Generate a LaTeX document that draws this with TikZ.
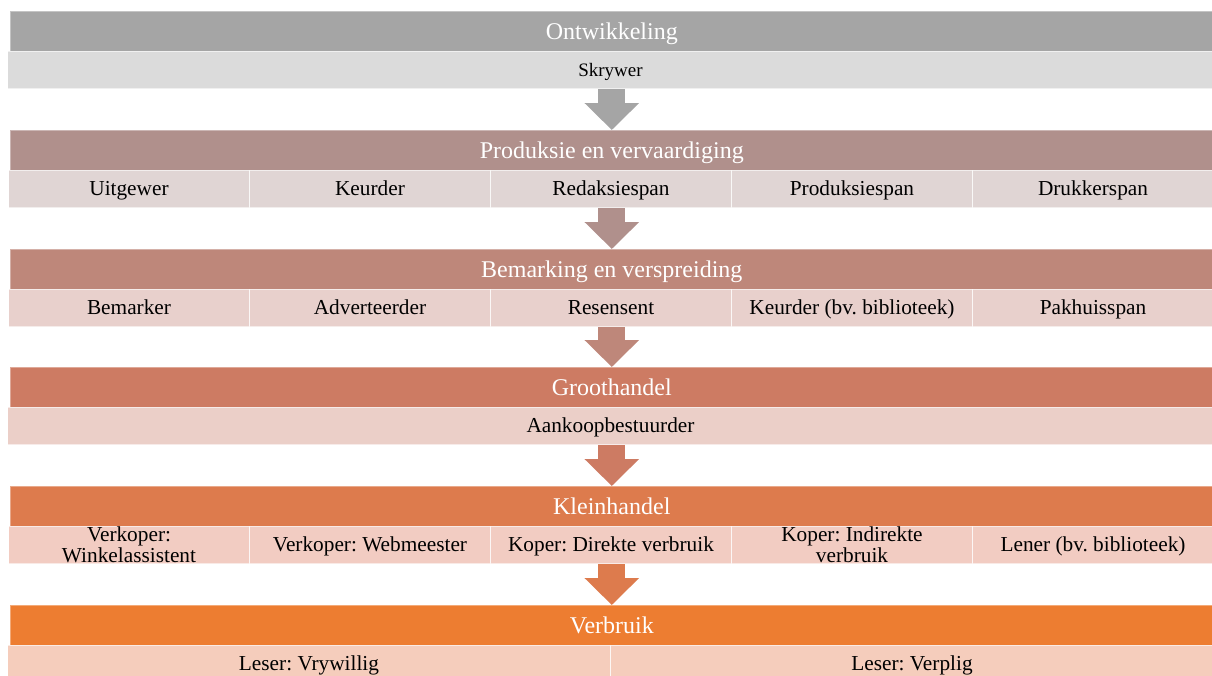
\documentclass[tikz,border=0pt]{standalone}
\usepackage{fontspec}
\setmainfont{Liberation Serif}
\frenchspacing
\usetikzlibrary{arrows.meta}
\definecolor{hA}{HTML}{A5A5A5}\definecolor{sA}{HTML}{DBDBDB}
\definecolor{hB}{HTML}{B0908C}\definecolor{sB}{HTML}{E0D5D4}
\definecolor{hC}{HTML}{BE877A}\definecolor{sC}{HTML}{E8D0CC}
\definecolor{hD}{HTML}{CD7B63}\definecolor{sD}{HTML}{EBCFC8}
\definecolor{hE}{HTML}{DD7B4D}\definecolor{sE}{HTML}{F2CCC2}
\definecolor{hF}{HTML}{ED7D31}\definecolor{sF}{HTML}{F5CDBC}
\tikzset{
  hdr/.style={anchor=north west, inner sep=0pt, minimum width=1203pt, minimum height=39.5pt,
    text=white, font=\fontsize{24}{24}\selectfont, text height=20.7pt, text depth=4.8pt,
    draw=white, draw opacity=0.35, line width=0.6pt},
  subcell/.style={anchor=north west, inner sep=0pt, minimum height=37.5pt,
    text=black, font=\fontsize{21.3}{21}\selectfont, text height=18.4pt, text depth=4.3pt,
    draw=white, draw opacity=0.6, line width=1pt},
  five/.style={subcell, minimum width=241pt},
  twoline/.style={align=center, text height=, text depth=},
  flow/.style={line width=27pt, -{Triangle[width=53pt,length=27pt]}}
}
\begin{document}
\begin{tikzpicture}[x=1pt,y=-1pt]
\useasboundingbox (0,0) rectangle (1212,675);
% Row 1
\node[hdr, fill=hA] (h1) at (10,11) {Ontwikkeling};
\node[subcell, fill=sA, minimum width=1206pt, font=\fontsize{19}{19}\selectfont, text height=16.6pt, text depth=4pt] (s1) at (7,50.5) {Skrywer};
% Row 2
\node[hdr, fill=hB] (h2) at (10,130) {Produksie en vervaardiging};
\node[five, fill=sB] (s2a) at (8,169.5) {Uitgewer};
\node[five, fill=sB] (s2b) at (249,169.5) {Keurder};
\node[five, fill=sB] (s2c) at (490,169.5) {Redaksiespan};
\node[five, fill=sB] (s2d) at (731,169.5) {Produksiespan};
\node[five, fill=sB] (s2e) at (972,169.5) {Drukkerspan};
% Row 3
\node[hdr, fill=hC] (h3) at (10,249) {Bemarking en verspreiding};
\node[five, fill=sC] (s3a) at (8,288.5) {Bemarker};
\node[five, fill=sC] (s3b) at (249,288.5) {Adverteerder};
\node[five, fill=sC] (s3c) at (490,288.5) {Resensent};
\node[five, fill=sC] (s3d) at (731,288.5) {Keurder (bv. biblioteek)};
\node[five, fill=sC] (s3e) at (972,288.5) {Pakhuisspan};
% Row 4
\node[hdr, fill=hD] (h4) at (10,367) {Groothandel};
\node[subcell, fill=sD, minimum width=1206pt] (s4) at (7,406.5) {Aankoopbestuurder};
% Row 5
\node[hdr, fill=hE] (h5) at (10,486) {Kleinhandel};
\node[five, twoline, fill=sE] (s5a) at (8,525.5) {Verkoper:\\Winkelassistent};
\node[five, fill=sE] (s5b) at (249,525.5) {Verkoper: Webmeester};
\node[five, fill=sE] (s5c) at (490,525.5) {Koper: Direkte verbruik};
\node[five, twoline, fill=sE] (s5d) at (731,525.5) {Koper: Indirekte\\verbruik};
\node[five, fill=sE] (s5e) at (972,525.5) {Lener (bv. biblioteek)};
% Row 6
\node[hdr, fill=hF] (h6) at (10,605) {Verbruik};
\node[subcell, fill=sF, minimum width=603pt] (s6a) at (7,644.5) {Leser: Vrywillig};
\node[subcell, fill=sF, minimum width=603pt] (s6b) at (610,644.5) {Leser: Verplig};
% Arrows
\draw[flow, hA] (h2.north |- s1.south) -- (h2.north);
\draw[flow, hB] (h3.north |- s2c.south) -- (h3.north);
\draw[flow, hC] (h4.north |- s3c.south) -- (h4.north);
\draw[flow, hD] (h5.north |- s4.south) -- (h5.north);
\draw[flow, hE] (h6.north |- s5c.south) -- (h6.north);
\end{tikzpicture}
\end{document}
